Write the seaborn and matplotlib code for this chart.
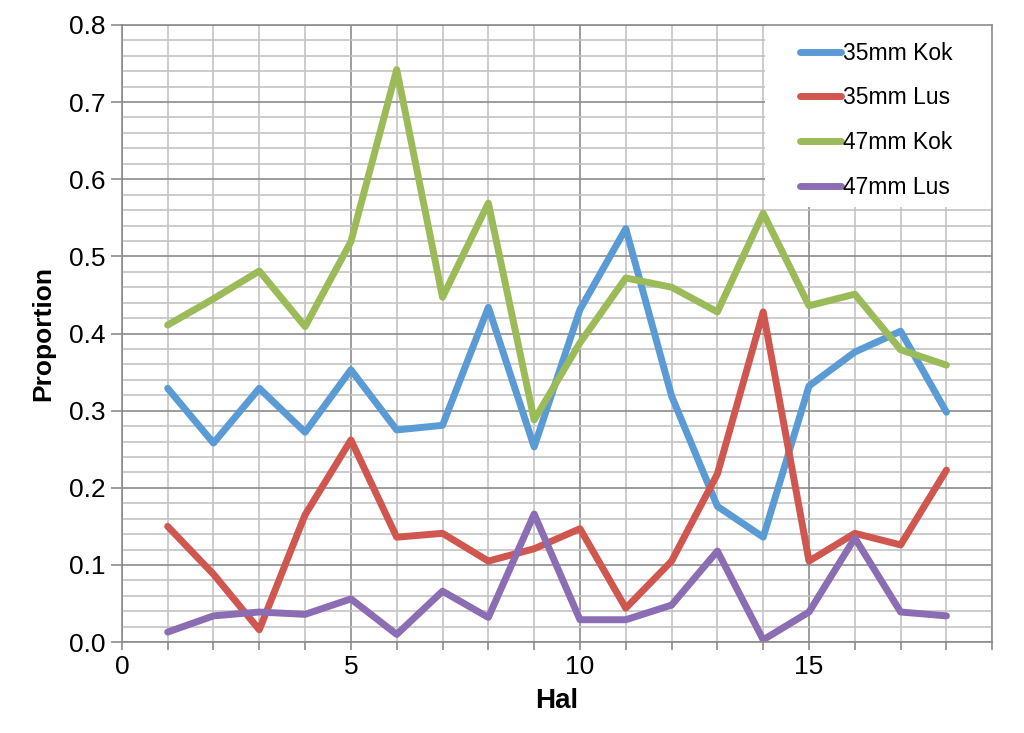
import numpy as np
import pandas as pd
import matplotlib
matplotlib.use("Agg")
import matplotlib.pyplot as plt
import seaborn as sns
from matplotlib.ticker import MultipleLocator
from matplotlib.patches import Rectangle

hal = list(range(1, 19))
kok35 = [0.329, 0.258, 0.329, 0.272, 0.353, 0.275, 0.281, 0.434, 0.253, 0.431,
         0.536, 0.319, 0.176, 0.136, 0.332, 0.376, 0.403, 0.298]
lus35 = [0.150, 0.088, 0.016, 0.165, 0.262, 0.136, 0.141, 0.105, 0.121, 0.147,
         0.044, 0.105, 0.218, 0.428, 0.105, 0.141, 0.126, 0.223]
kok47 = [0.411, 0.445, 0.481, 0.409, 0.519, 0.742, 0.447, 0.569, 0.288, 0.388,
         0.472, 0.460, 0.428, 0.556, 0.436, 0.451, 0.379, 0.359]
lus47 = [0.013, 0.034, 0.039, 0.036, 0.056, 0.010, 0.066, 0.032, 0.166, 0.029,
         0.029, 0.048, 0.118, 0.003, 0.039, 0.135, 0.039, 0.034]
series_names = ["35mm Kok", "35mm Lus", "47mm Kok", "47mm Lus"]
colors = ["#5B9BD5", "#D0574F", "#9BBB59", "#8B6DB3"]

df = pd.concat([
    pd.DataFrame({"Hal": hal, "Proportion": v, "Series": n})
    for n, v in zip(series_names, [kok35, lus35, kok47, lus47])
])

sns.set_theme(style="white")
plt.rcParams["font.family"] = ["Liberation Sans", "DejaVu Sans"]
plt.rcParams["text.color"] = "black"
plt.rcParams["axes.labelcolor"] = "black"
plt.rcParams["xtick.color"] = "black"
plt.rcParams["ytick.color"] = "black"

fig = plt.figure(figsize=(10.24, 7.33), dpi=100)
ax = fig.add_axes([0.119, 0.124, 0.850, 0.842])

sns.lineplot(data=df, x="Hal", y="Proportion", hue="Series",
             palette=dict(zip(series_names, colors)), linewidth=5,
             ax=ax, legend=True)

ax.set_xlim(0, 19)
ax.set_ylim(0, 0.8)
ax.xaxis.set_major_locator(MultipleLocator(5))
ax.xaxis.set_minor_locator(MultipleLocator(1))
ax.yaxis.set_major_locator(MultipleLocator(0.1))
ax.yaxis.set_minor_locator(MultipleLocator(0.02))
ax.set_yticks(ax.get_yticks())
ax.set_yticklabels([f"{t:.1f}" for t in ax.get_yticks()])
ax.set_ylim(0, 0.8)
ax.grid(which="major", color="#8c8c8c", linewidth=1.2)
ax.grid(which="minor", color="#c4c4c4", linewidth=1.2)
ax.set_axisbelow(True)
ax.tick_params(which="both", direction="out", bottom=True, left=True,
               labelsize=19, labelcolor="black")
ax.tick_params(axis="x", which="both", length=6, width=1.2, color="#8c8c8c")
ax.tick_params(axis="y", which="major", length=8, width=1.2, color="#8c8c8c")
ax.tick_params(axis="y", which="minor", length=0)
for s in ax.spines.values():
    s.set_color("#8c8c8c")
    s.set_linewidth(1.2)

ax.set_xlabel("Hal", fontsize=20, fontweight="bold", labelpad=6, color="black")
ax.set_ylabel("Proportion", fontsize=19, fontweight="bold", labelpad=10, color="black")

# white legend background box
ax.add_patch(Rectangle((0.739, 0.705), 0.261, 0.295, transform=ax.transAxes,
                       facecolor="white", edgecolor="none", zorder=1.5))

leg = ax.legend(loc="upper left", bbox_to_anchor=(0.779, 0.973), frameon=False,
                fontsize=16.5, handlelength=1.8, handletextpad=0.1,
                labelspacing=0.95, borderpad=0.0, borderaxespad=0.0)
for line in leg.get_lines():
    line.set_linewidth(5)
    line.set_solid_capstyle("round")
for t in leg.get_texts():
    t.set_color("black")

fig.savefig("out.png", dpi=100)
